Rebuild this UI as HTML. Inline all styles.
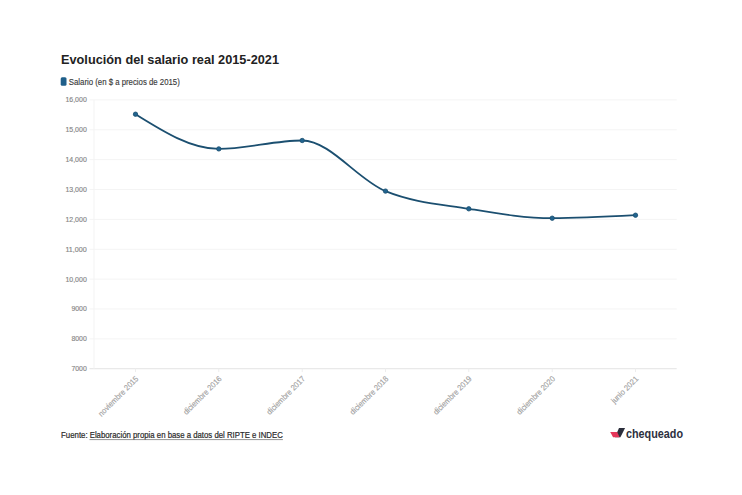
<!DOCTYPE html>
<html><head><meta charset="utf-8">
<style>
html,body{margin:0;padding:0;background:#fff;}
body{width:742px;height:495px;overflow:hidden;position:relative;font-family:"Liberation Sans",sans-serif;}
svg{position:absolute;left:0;top:0;}
.t{font-family:"Liberation Sans",sans-serif;}
.title{font-weight:bold;font-size:12.6px;fill:#222;}
.leg{font-size:8.8px;fill:#3a3a3a;stroke:#3a3a3a;stroke-width:0.15px;}
.yl{font-size:7.8px;fill:#858585;stroke:#858585;stroke-width:0.15px;}
.xl{font-size:8px;fill:#a2a2a2;stroke:#a2a2a2;stroke-width:0.15px;}
.src{font-size:8.6px;fill:#2a2a2a;stroke:#2a2a2a;stroke-width:0.2px;}
.logo{font-weight:bold;font-size:12px;fill:#2d3040;}
</style></head>
<body>
<svg width="742" height="495" viewBox="0 0 742 495" class="t">
<rect width="742" height="495" fill="#fff"/>
<text x="61" y="64" class="title" textLength="218" lengthAdjust="spacingAndGlyphs">Evolución del salario real 2015-2021</text>
<rect x="60.7" y="77.2" width="5.8" height="8.6" rx="1.5" fill="#1f5f8a"/>
<text x="68.8" y="84.7" class="leg" textLength="111" lengthAdjust="spacingAndGlyphs">Salario (en $ a precios de 2015)</text>
<line x1="89.5" y1="99.90" x2="676.7" y2="99.90" stroke="#f4f4f4" stroke-width="1"/><line x1="89.5" y1="129.77" x2="676.7" y2="129.77" stroke="#f4f4f4" stroke-width="1"/><line x1="89.5" y1="159.64" x2="676.7" y2="159.64" stroke="#f4f4f4" stroke-width="1"/><line x1="89.5" y1="189.51" x2="676.7" y2="189.51" stroke="#f4f4f4" stroke-width="1"/><line x1="89.5" y1="219.38" x2="676.7" y2="219.38" stroke="#f4f4f4" stroke-width="1"/><line x1="89.5" y1="249.25" x2="676.7" y2="249.25" stroke="#f4f4f4" stroke-width="1"/><line x1="89.5" y1="279.12" x2="676.7" y2="279.12" stroke="#f4f4f4" stroke-width="1"/><line x1="89.5" y1="308.99" x2="676.7" y2="308.99" stroke="#f4f4f4" stroke-width="1"/><line x1="89.5" y1="338.86" x2="676.7" y2="338.86" stroke="#f4f4f4" stroke-width="1"/><line x1="89.5" y1="368.73" x2="676.7" y2="368.73" stroke="#e3e3e3" stroke-width="1"/>
<line x1="94.0" y1="99.9" x2="94.0" y2="368.6" stroke="#f3f3f3" stroke-width="1"/>
<text x="86.8" y="102.40" text-anchor="end" class="yl" textLength="21.4" lengthAdjust="spacingAndGlyphs">16,000</text><text x="86.8" y="132.27" text-anchor="end" class="yl" textLength="21.4" lengthAdjust="spacingAndGlyphs">15,000</text><text x="86.8" y="162.14" text-anchor="end" class="yl" textLength="21.4" lengthAdjust="spacingAndGlyphs">14,000</text><text x="86.8" y="192.01" text-anchor="end" class="yl" textLength="21.4" lengthAdjust="spacingAndGlyphs">13,000</text><text x="86.8" y="221.88" text-anchor="end" class="yl" textLength="21.4" lengthAdjust="spacingAndGlyphs">12,000</text><text x="86.8" y="251.75" text-anchor="end" class="yl" textLength="21.4" lengthAdjust="spacingAndGlyphs">11,000</text><text x="86.8" y="281.62" text-anchor="end" class="yl" textLength="21.4" lengthAdjust="spacingAndGlyphs">10,000</text><text x="86.8" y="311.49" text-anchor="end" class="yl" textLength="15.4" lengthAdjust="spacingAndGlyphs">9000</text><text x="86.8" y="341.36" text-anchor="end" class="yl" textLength="15.4" lengthAdjust="spacingAndGlyphs">8000</text><text x="86.8" y="371.23" text-anchor="end" class="yl" textLength="15.4" lengthAdjust="spacingAndGlyphs">7000</text>
<line x1="135.5" y1="368.6" x2="135.5" y2="372.1" stroke="#ededed" stroke-width="1"/><line x1="218.8" y1="368.6" x2="218.8" y2="372.1" stroke="#ededed" stroke-width="1"/><line x1="302.2" y1="368.6" x2="302.2" y2="372.1" stroke="#ededed" stroke-width="1"/><line x1="385.5" y1="368.6" x2="385.5" y2="372.1" stroke="#ededed" stroke-width="1"/><line x1="468.8" y1="368.6" x2="468.8" y2="372.1" stroke="#ededed" stroke-width="1"/><line x1="552.2" y1="368.6" x2="552.2" y2="372.1" stroke="#ededed" stroke-width="1"/><line x1="635.5" y1="368.6" x2="635.5" y2="372.1" stroke="#ededed" stroke-width="1"/>
<text transform="translate(138.90,379.40) rotate(-45)" text-anchor="end" class="xl" textLength="53.0" lengthAdjust="spacingAndGlyphs">noviembre 2015</text><text transform="translate(222.20,379.40) rotate(-45)" text-anchor="end" class="xl" textLength="50.6" lengthAdjust="spacingAndGlyphs">diciembre 2016</text><text transform="translate(305.60,379.40) rotate(-45)" text-anchor="end" class="xl" textLength="50.6" lengthAdjust="spacingAndGlyphs">diciembre 2017</text><text transform="translate(388.90,379.40) rotate(-45)" text-anchor="end" class="xl" textLength="50.6" lengthAdjust="spacingAndGlyphs">diciembre 2018</text><text transform="translate(472.20,379.40) rotate(-45)" text-anchor="end" class="xl" textLength="50.6" lengthAdjust="spacingAndGlyphs">diciembre 2019</text><text transform="translate(555.60,379.40) rotate(-45)" text-anchor="end" class="xl" textLength="50.6" lengthAdjust="spacingAndGlyphs">diciembre 2020</text><text transform="translate(638.90,379.40) rotate(-45)" text-anchor="end" class="xl" textLength="34.5" lengthAdjust="spacingAndGlyphs">junio 2021</text>
<path d="M135.50,114.20C163.27,131.55 191.03,148.90 218.80,148.90C246.60,148.90 274.40,140.50 302.20,140.50C329.97,140.50 357.73,179.72 385.50,191.10C413.27,202.48 441.03,204.28 468.80,208.80C496.60,213.32 524.40,218.20 552.20,218.20C579.97,218.20 607.73,216.70 635.50,215.20" fill="none" stroke="#1b4f70" stroke-width="1.8"/>
<circle cx="135.5" cy="114.2" r="2.2" fill="#22648f" stroke="#1b4f70" stroke-width="0.8"/><circle cx="218.8" cy="148.9" r="2.2" fill="#22648f" stroke="#1b4f70" stroke-width="0.8"/><circle cx="302.2" cy="140.5" r="2.2" fill="#22648f" stroke="#1b4f70" stroke-width="0.8"/><circle cx="385.5" cy="191.1" r="2.2" fill="#22648f" stroke="#1b4f70" stroke-width="0.8"/><circle cx="468.8" cy="208.8" r="2.2" fill="#22648f" stroke="#1b4f70" stroke-width="0.8"/><circle cx="552.2" cy="218.2" r="2.2" fill="#22648f" stroke="#1b4f70" stroke-width="0.8"/><circle cx="635.5" cy="215.2" r="2.2" fill="#22648f" stroke="#1b4f70" stroke-width="0.8"/>
<text x="61.1" y="438" class="src" textLength="26.5" lengthAdjust="spacingAndGlyphs">Fuente:</text>
<text x="89.7" y="438" class="src" textLength="193.1" lengthAdjust="spacingAndGlyphs">Elaboración propia en base a datos del RIPTE e INDEC</text>
<line x1="89.5" y1="439.6" x2="282.9" y2="439.6" stroke="#777" stroke-width="0.8"/>
<polygon points="619.0,428.1 625.1,428.1 620.4,437.3 615.0,437.3" fill="#2b2e3b"/>
<polygon points="610.2,432.1 617.2,432.1 619.6,437.3 613.1,437.3" fill="#e5375a"/>
<text x="626" y="437.7" class="logo" textLength="57" lengthAdjust="spacingAndGlyphs">chequeado</text>
</svg>
</body></html>
